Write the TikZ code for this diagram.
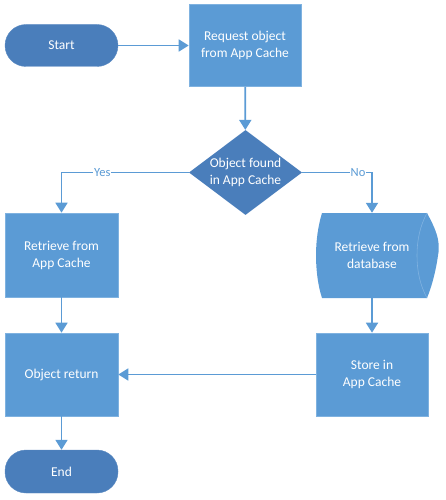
\documentclass[tikz,border=0pt]{standalone}
\usepackage{fontspec}
\setmainfont{Carlito}
\usetikzlibrary{arrows.meta,shapes.geometric}
\definecolor{boxblue}{HTML}{5B9BD5}
\definecolor{darkblue}{HTML}{4A7EBB}
\definecolor{edgeblue}{HTML}{7FB2E0}
\begin{document}
\begin{tikzpicture}[x=1pt,y=-1pt,
  txt/.style={text=white,align=center,font=\fontsize{13.5}{17}\selectfont},
  procbox/.style={txt,rectangle,draw=edgeblue,line width=0.6pt,fill=boxblue,inner sep=0pt,minimum width=113pt,minimum height=83pt},
  term/.style={txt,rectangle,rounded corners=21pt,fill=darkblue,draw=darkblue!90!white,inner sep=0pt,minimum width=113pt,minimum height=42pt},
  decision/.style={diamond,fill=darkblue,inner sep=0pt,minimum width=113pt,minimum height=85pt},
  conn/.style={draw=boxblue,line width=1.8pt,-{Triangle[length=10pt,width=12pt]}},
  lbl/.style={fill=white,text=boxblue,inner sep=1pt,font=\fontsize{12.5}{14}\selectfont}]
\useasboundingbox (0,0) rectangle (446,500);
\node[term] (start) at (61.5,45.5) {Start};
\node[procbox,minimum width=112pt,minimum height=82pt] (req) at (245,45.5) {Request object\\from App Cache};
\node[decision,label={[txt]center:{Object found\\in App Cache}}] (dec) at (245.5,172.5) {};
\node[procbox,minimum height=84pt] (ret) at (61.5,255) {Retrieve from\\App Cache};
% database shape
\fill[boxblue] (322,213) -- (427,213) .. controls (435,228) and (441,240) .. (438,255.5)
  .. controls (436,270) and (432,286) .. (427,298) -- (322,298)
  .. controls (318,286) and (316,270) .. (316,255.5)
  .. controls (316,241) and (318,226) .. (322,213) -- cycle;
\draw[edgeblue,line width=0.6pt] (427,213) .. controls (420,226) and (417,240) .. (417,255.5)
  .. controls (417,271) and (420,285) .. (427,298);
\node[txt,minimum width=112pt,minimum height=85pt,inner sep=0pt] (db) at (372,255.5) {Retrieve from\\database};
\node[procbox,minimum width=112pt] (store) at (372,374.5) {Store in\\App Cache};
\node[procbox] (objret) at (61.5,374.5) {Object return};
\node[term,minimum height=43pt] (end) at (61.5,471.5) {End};
\draw[conn] (start) -- (req);
\draw[conn] (req) -- (dec);
\draw[conn] (dec.west) -| node[lbl,pos=0.34] {Yes} (ret.north);
\draw[conn] (dec.east) -| node[lbl,pos=0.4] {No} (db.north);
\draw[conn] (ret) -- (objret);
\draw[conn] (db) -- (store);
\draw[conn] (store) -- (objret);
\draw[conn] (objret) -- (end);
\end{tikzpicture}
\end{document}
